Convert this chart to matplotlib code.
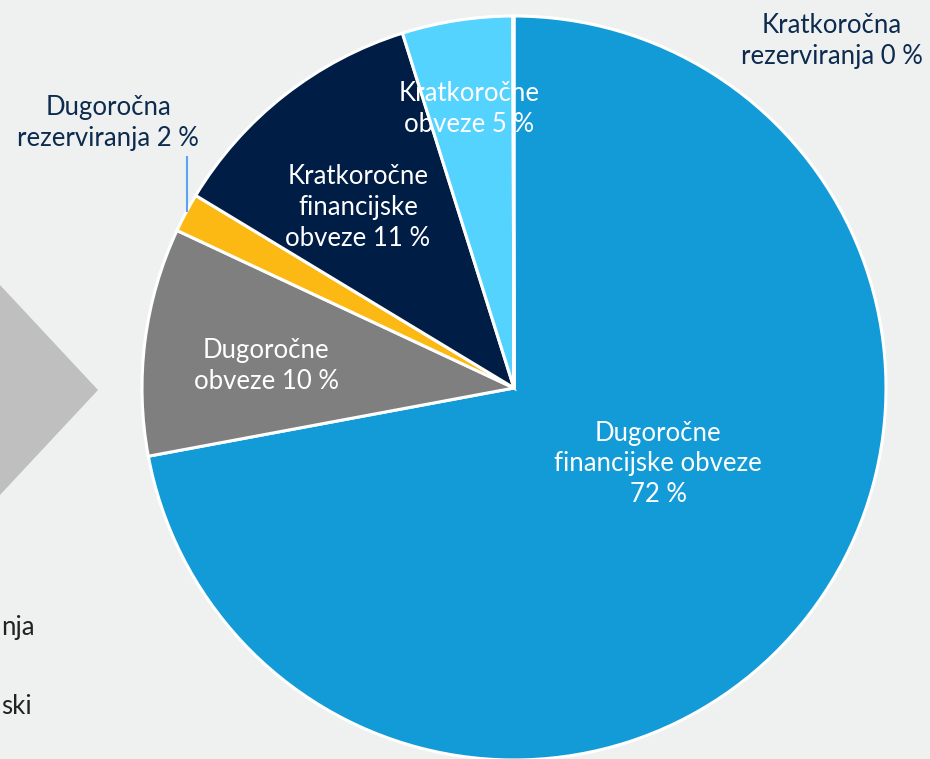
import matplotlib.pyplot as plt
from matplotlib.patches import Polygon

# pie data (share of liabilities, %)
labels = ["Dugoročne financijske obveze", "Dugoročne obveze", "Dugoročna rezerviranja",
          "Kratkoročne financijske obveze", "Kratkoročne obveze", "Kratkoročna rezerviranja"]
values = [72.1, 9.9, 1.7, 11.5, 4.8, 0.05]
colors = ["#139BD8", "#7F7F7F", "#FDB913", "#001E45", "#55D3FF", "#2E75B6"]

label_texts = ["Dugoročne\nfinancijske obveze\n72 %", "Dugoročne\nobveze 10 %",
               "Dugoročna\nrezerviranja 2 %", "Kratkoročne\nfinancijske\nobveze 11 %",
               "Kratkoročne\nobveze 5 %", "Kratkoročna\nrezerviranja 0 %"]

# visible ends of a neighbouring legend (cut off at the left edge)
side_texts = ["nja", "ski"]

W, H = 930, 759
bg = "#EFF1F1"
navy_txt = "#0D2B4E"
fs = 18.5
ls = 1.3

plt.rcParams['font.family'] = ['Lato', 'DejaVu Sans']

fig = plt.figure(figsize=(9.3, 7.59), dpi=100, facecolor=bg)
ax = fig.add_axes([0, 0, 1, 1])
ax.axis('off')

def Y(y):
    # pixel from top -> data y
    return H - y

# grey chevron on the left (cut off)
ax.add_patch(Polygon([(0, Y(285)), (98, Y(390)), (0, Y(495))], closed=True,
                     facecolor="#BFBFBF", edgecolor="none"))
ax.text(1, Y(628), side_texts[0], ha='left', va='center', fontsize=fs, color="#222222")
ax.text(1, Y(707), side_texts[1], ha='left', va='center', fontsize=fs, color="#222222")

ax.pie(values, colors=colors, startangle=90, counterclock=False,
       center=(514, Y(388)), radius=372,
       wedgeprops=dict(edgecolor="white", linewidth=2.2))
ax.set_xlim(0, W)
ax.set_ylim(0, H)
ax.set_aspect('equal')

# labels inside
ax.text(658, Y(464), label_texts[0], ha='center', va='center', color='white',
        fontsize=fs, linespacing=ls)
ax.text(266, Y(366), label_texts[1], ha='center', va='center', color='white',
        fontsize=fs, linespacing=ls)
ax.text(358, Y(208), label_texts[3], ha='center', va='center', color='white',
        fontsize=fs, linespacing=ls)
ax.text(469, Y(109), label_texts[4], ha='center', va='center', color='white',
        fontsize=fs, linespacing=ls)

# labels outside
ax.text(108, Y(123), label_texts[2], ha='center', va='center', color=navy_txt,
        fontsize=fs, linespacing=ls)
ax.plot([187, 187], [Y(157), Y(211)], color="#5BA3F0", lw=1.5)
ax.text(832, Y(41), label_texts[5], ha='center', va='center', color=navy_txt,
        fontsize=fs, linespacing=ls)

fig.savefig("out.png", dpi=100, facecolor=bg)
